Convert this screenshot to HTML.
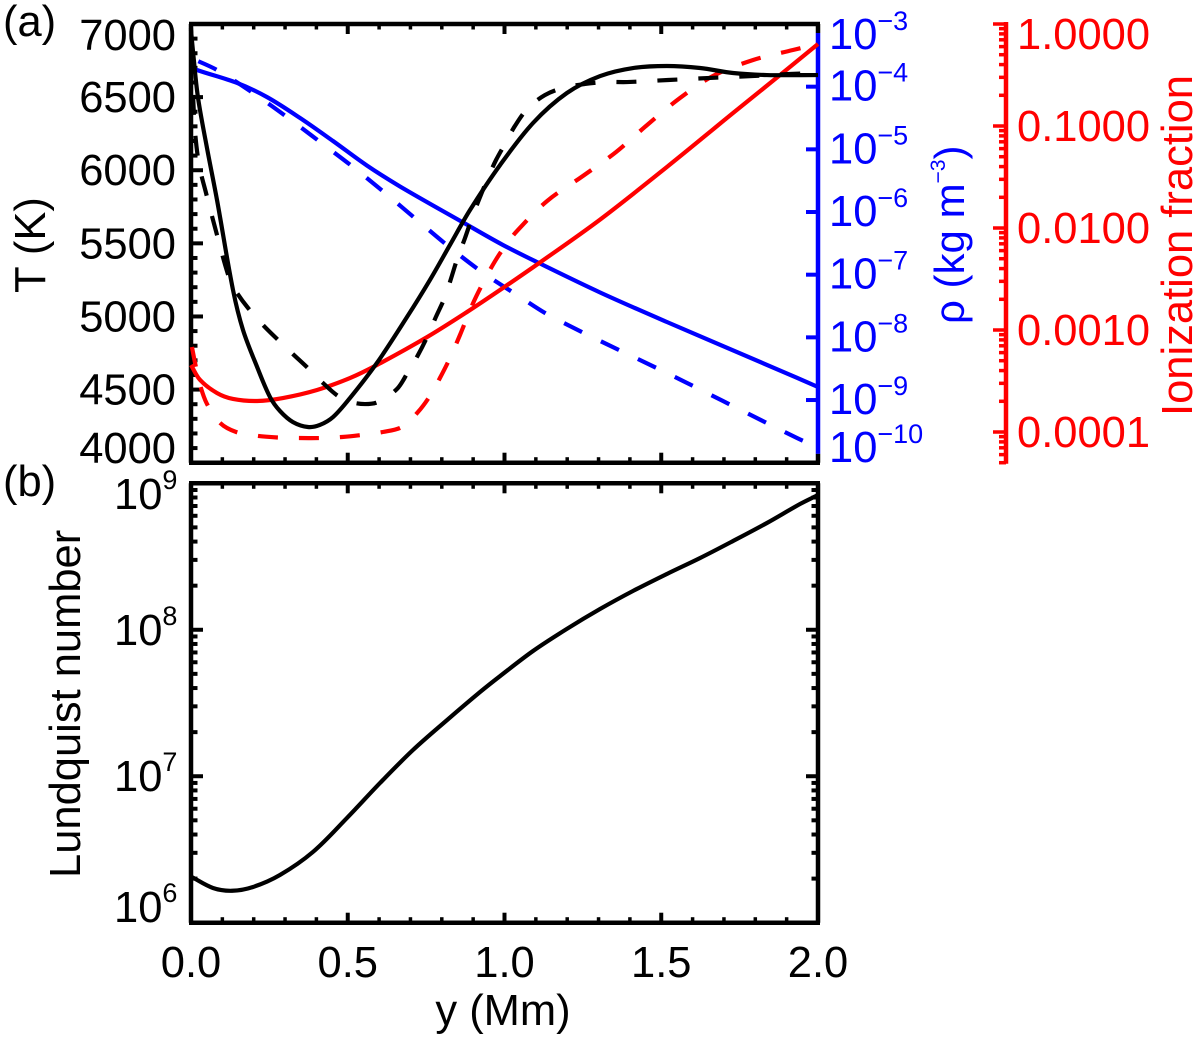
<!DOCTYPE html>
<html lang="en">
<head>
<meta charset="utf-8">
<title>Temperature, density, ionization fraction and Lundquist number</title>
<style>
html,body{margin:0;padding:0;background:#fff;}
svg{display:block;}
text{font-family:"Liberation Sans",sans-serif;font-size:43.5px;}
</style>
</head>
<body>
<svg id="chart" xmlns="http://www.w3.org/2000/svg" width="1200" height="1042" viewBox="0 0 1200 1042">
  <rect x="0" y="0" width="1200" height="1042" fill="#fff"/>
  <g id="axes"></g>
  <g id="series"></g>
  <g id="labels"></g>
  <text x="3" y="36" fill="#000">(a)</text>
  <text x="3" y="496" fill="#000">(b)</text>
  <text transform="translate(45,293) rotate(-90)" fill="#000">T (K)</text>
  <text transform="translate(80,878) rotate(-90)" fill="#000">Lundquist number</text>
  <text transform="translate(964,324) rotate(-90)" fill="#0000ff" style="font-size:42px">ρ (kg m<tspan dy="-19" style="font-size:21px">−3</tspan><tspan dy="19">)</tspan></text>
  <text transform="translate(1192,416) rotate(-90)" fill="#ff0000">Ionization fraction</text>
  <text x="503" y="1025" text-anchor="middle" fill="#000">y (Mm)</text>
</svg>
<script>
// ---- tick values ----
const xTicks = ['0.0', '0.5', '1.0', '1.5', '2.0'];
const tempTicks = [7000, 6500, 6000, 5500, 5000, 4500, 4000];
const rhoExponents = [-3, -4, -5, -6, -7, -8, -9, -10];
const ionTicks = ['1.0000', '0.1000', '0.0100', '0.0010', '0.0001'];
const lundquistExponents = [9, 8, 7, 6];

// ---- temperature (K), solid ----
const tempSolidY = [0, 0.006, 0.022, 0.051, 0.083, 0.134, 0.166, 0.211, 0.252, 0.284, 0.325, 0.373, 0.411, 0.453, 0.507, 0.593, 0.689, 0.762, 0.826, 0.89, 0.986, 1.091, 1.199, 1.305, 1.41, 1.518, 1.624, 1.729, 1.837, 2.0];
const tempSolid = [6959, 6822, 6501, 6152, 5796, 5181, 4907, 4654, 4449, 4353, 4278, 4244, 4258, 4312, 4442, 4682, 4996, 5249, 5489, 5728, 6036, 6323, 6528, 6644, 6699, 6713, 6699, 6665, 6651, 6651];

// ---- temperature (K), dashed ----
const tempDashY = [0, 0.006, 0.013, 0.026, 0.048, 0.083, 0.124, 0.147, 0.182, 0.23, 0.278, 0.325, 0.373, 0.421, 0.469, 0.51, 0.555, 0.596, 0.657, 0.692, 0.724, 0.753, 0.781, 0.81, 0.829, 0.848, 0.874, 0.896, 0.918, 0.947, 0.973, 1.005, 1.033, 1.075, 1.129, 1.186, 1.257, 1.321, 1.391, 1.522, 1.656, 1.79, 1.911, 2.0];
const tempDash = [6973, 6549, 6261, 6036, 5844, 5557, 5249, 5160, 5058, 4941, 4839, 4743, 4647, 4545, 4456, 4415, 4401, 4415, 4504, 4620, 4736, 4859, 4996, 5133, 5256, 5386, 5536, 5673, 5796, 5947, 6070, 6193, 6302, 6425, 6514, 6562, 6590, 6603, 6603, 6617, 6631, 6644, 6658, 6665];

// ---- log10 density (kg m^-3), solid ----
const rhoSolidY = [0, 0.019, 0.147, 0.242, 0.348, 0.453, 0.561, 0.667, 0.868, 0.995, 1.113, 1.305, 1.518, 1.879, 2.0];
const rhoSolidLog = [-3.686, -3.734, -3.941, -4.165, -4.5, -4.867, -5.258, -5.593, -6.167, -6.526, -6.822, -7.284, -7.755, -8.529, -8.792];

// ---- log10 density (kg m^-3), dashed ----
const rhoDashY = [0, 0.083, 0.198, 0.306, 0.412, 0.517, 0.619, 0.721, 0.82, 0.928, 1.04, 1.155, 1.544, 1.933, 2.0];
const rhoDashLog = [-3.543, -3.734, -4.101, -4.484, -4.883, -5.282, -5.697, -6.127, -6.542, -6.957, -7.324, -7.683, -8.633, -9.606, -9.75];

// ---- log10 ionization fraction, solid ----
const ionSolidY = [0, 0.029, 0.083, 0.134, 0.211, 0.293, 0.402, 0.507, 0.593, 0.753, 0.88, 0.995, 1.113, 1.305, 1.518, 1.729, 1.879, 2.0];
const ionSolidLog = [-3.343, -3.49, -3.618, -3.676, -3.696, -3.667, -3.588, -3.471, -3.343, -3.069, -2.824, -2.588, -2.338, -1.917, -1.402, -0.873, -0.5, -0.196];

// ---- log10 ionization fraction, dashed ----
const ionDashY = [0.003, 0.013, 0.029, 0.051, 0.093, 0.144, 0.214, 0.278, 0.344, 0.411, 0.482, 0.545, 0.612, 0.673, 0.724, 0.762, 0.794, 0.826, 0.858, 0.9, 0.938, 0.97, 1.002, 1.04, 1.136, 1.25, 1.356, 1.455, 1.56, 1.665, 1.793, 1.92, 2.0];
const ionDashLog = [-3.167, -3.324, -3.539, -3.725, -3.912, -4, -4.039, -4.054, -4.059, -4.059, -4.049, -4.029, -4, -3.951, -3.804, -3.647, -3.471, -3.275, -3.049, -2.735, -2.5, -2.324, -2.176, -2.029, -1.735, -1.49, -1.255, -0.99, -0.725, -0.51, -0.353, -0.255, -0.196];

// ---- log10 Lundquist number ----
const lundquistY = [0, 0.07, 0.131, 0.198, 0.284, 0.389, 0.498, 0.603, 0.708, 0.817, 0.922, 0.986, 1.091, 1.199, 1.305, 1.41, 1.518, 1.624, 1.729, 1.837, 1.943, 2.0];
const lundquistLog = [6.315, 6.237, 6.218, 6.244, 6.326, 6.483, 6.716, 6.954, 7.179, 7.384, 7.575, 7.684, 7.855, 8.006, 8.142, 8.265, 8.381, 8.49, 8.606, 8.729, 8.859, 8.92];

const NS = 'http://www.w3.org/2000/svg';
const axesLayer = document.getElementById('axes');
const seriesLayer = document.getElementById('series');
const labelsLayer = document.getElementById('labels');

const LEFT = 191, RIGHT = 818;
const A_TOP = 24, A_BOTTOM = 462.7, B_TOP = 483.3, B_BOTTOM = 922.7;
const RED_X = 1006;

function xPos(v) { return LEFT + (v / 2) * (RIGHT - LEFT); }
function tempPos(v) { return A_BOTTOM - (v - 4000) / 3000 * (A_BOTTOM - A_TOP); }
function rhoPos(v) { return A_BOTTOM - (v + 10) / 7 * (A_BOTTOM - A_TOP); }
function ionPos(v) { return A_TOP + (-v) * 102; }
function lundquistPos(v) { return B_BOTTOM - (v - 6) / 3 * (B_BOTTOM - B_TOP); }
function clamp(v, lo, hi) { return Math.max(lo, Math.min(hi, v)); }

function line(x1, y1, x2, y2, color, width, name) {
  const el = document.createElementNS(NS, 'line');
  el.setAttribute('x1', x1);
  el.setAttribute('y1', y1);
  el.setAttribute('x2', x2);
  el.setAttribute('y2', y2);
  el.setAttribute('stroke', color);
  el.setAttribute('stroke-width', width);
  
  
  axesLayer.appendChild(el);
}

function label(x, y, str, color, anchor, name) {
  const el = document.createElementNS(NS, 'text');
  el.setAttribute('x', x);
  el.setAttribute('y', y);
  el.setAttribute('fill', color);
  el.setAttribute('text-anchor', anchor);
  el.textContent = str;
  
  
  labelsLayer.appendChild(el);
}

function powerLabel(x, y, exp, color, rise, name) {
  const el = document.createElementNS(NS, 'text');
  el.setAttribute('x', x);
  el.setAttribute('y', y);
  el.setAttribute('fill', color);
  el.textContent = '10';
  const sup = document.createElementNS(NS, 'tspan');
  sup.setAttribute('dy', -rise);
  sup.setAttribute('style', 'font-size:27px');
  sup.textContent = String(exp).replace('-', '\u2212');
  el.appendChild(sup);
  
  
  labelsLayer.appendChild(el);
}

function chord(a, b) { return Math.max(Math.hypot(b[0] - a[0], b[1] - a[1]), 0.001); }

function curve(ys, vs, posFn, color, dash, offset, name) {
  const pts = ys.map(function (y, i) { return [xPos(y), posFn(vs[i])]; });
  const n = pts.length;
  const tangents = pts.map(function (p, i) {
    const a = pts[Math.max(i - 1, 0)], b = pts[Math.min(i + 1, n - 1)];
    const d = chord(a, p) * (i > 0 ? 1 : 0) + chord(p, b) * (i < n - 1 ? 1 : 0);
    return [(b[0] - a[0]) / d, (b[1] - a[1]) / d];
  });
  let d = 'M' + pts[0][0].toFixed(2) + ' ' + pts[0][1].toFixed(2);
  for (let i = 0; i < n - 1; i++) {
    const p1 = pts[i], p2 = pts[i + 1], h = chord(p1, p2) / 3;
    const c1x = p1[0] + tangents[i][0] * h, c1y = p1[1] + tangents[i][1] * h;
    const c2x = p2[0] - tangents[i + 1][0] * h, c2y = p2[1] - tangents[i + 1][1] * h;
    d += 'C' + c1x.toFixed(2) + ' ' + c1y.toFixed(2) + ' ' + c2x.toFixed(2) + ' ' + c2y.toFixed(2) + ' ' + p2[0].toFixed(2) + ' ' + p2[1].toFixed(2);
  }
  const el = document.createElementNS(NS, 'path');
  el.setAttribute('d', d);
  el.setAttribute('fill', 'none');
  el.setAttribute('stroke', color);
  el.setAttribute('stroke-width', '4.2');
  if (dash) {
    el.setAttribute('stroke-dasharray', dash);
    el.setAttribute('stroke-dashoffset', offset);
  }
  
  
  seriesLayer.appendChild(el);
}

// ---- x ticks on both panels ----
[[A_TOP, A_BOTTOM, 'a'], [B_TOP, B_BOTTOM, 'b']].forEach(function (p) {
  for (let i = 1; i < 20; i++) {
    const x = xPos(i / 10);
    const major = i % 5 === 0;
    const len = major ? 10 : 5.5;
    const w = major ? 4 : 3.5;
    line(x, p[0], x, p[0] + len, '#000', w, 'panel-' + p[2] + '-top-x-tick');
    line(x, p[1], x, p[1] - len, '#000', w, 'panel-' + p[2] + '-bottom-x-tick');
  }
});

// ---- panel (a) temperature ticks ----
for (let t = 4100; t < 7000; t += 100) {
  const major = t % 500 === 0;
  line(LEFT, tempPos(t), LEFT + (major ? 12 : 6.5), tempPos(t), '#000', 4, 'temperature-tick');
}

// ---- panel (b) logarithmic ticks on both sides ----
for (let dec = 6; dec < 9; dec++) {
  for (let m = 1; m < 10; m++) {
    if (dec === 6 && m === 1) continue;
    const y = lundquistPos(dec + Math.log10(m));
    const len = m === 1 ? 12 : 6.5;
    line(LEFT, y, LEFT + len, y, '#000', 4, 'lundquist-left-tick');
    line(RIGHT, y, RIGHT - len, y, '#000', 4, 'lundquist-right-tick');
  }
}

// ---- frames ----
line(LEFT - 2, A_TOP, RIGHT + 2, A_TOP, '#000', 4.5, 'panel-a-top-spine');
line(LEFT - 2, A_BOTTOM, RIGHT + 2, A_BOTTOM, '#000', 4.5, 'panel-a-bottom-spine');
line(LEFT, A_TOP, LEFT, A_BOTTOM, '#000', 4.5, 'panel-a-left-spine');
line(RIGHT, A_TOP, RIGHT, A_TOP + 9, '#000', 4.5, 'panel-a-right-spine-top-corner');
line(RIGHT, A_BOTTOM - 9, RIGHT, A_BOTTOM, '#000', 4.5, 'panel-a-right-spine-bottom-corner');
line(LEFT - 2, B_TOP, RIGHT + 2, B_TOP, '#000', 4.5, 'panel-b-top-spine');
line(LEFT - 2, B_BOTTOM, RIGHT + 2, B_BOTTOM, '#000', 4.5, 'panel-b-bottom-spine');
line(LEFT, B_TOP, LEFT, B_BOTTOM, '#000', 4.5, 'panel-b-left-spine');
line(RIGHT, B_TOP, RIGHT, B_BOTTOM, '#000', 4.5, 'panel-b-right-spine');

// ---- density axis ----
line(RIGHT, A_TOP + 9, RIGHT, A_BOTTOM - 9, '#0000ff', 4.5, 'density-axis-spine');
rhoExponents.slice(1, -1).forEach(function (e) {
  line(RIGHT, rhoPos(e), RIGHT - 12, rhoPos(e), '#0000ff', 4, 'density-tick');
});

// ---- ionization axis ----
line(RED_X, A_TOP - 2, RED_X, A_BOTTOM + 1, '#ff0000', 4.5, 'ionization-axis-spine');
for (let dec = -5; dec <= 0; dec++) {
  for (let m = 1; m < 10; m++) {
    const v = dec + Math.log10(m);
    if (v > 0.001) continue;
    const y = ionPos(v);
    if (y > A_BOTTOM + 1) continue;
    line(RED_X, y, RED_X - (m === 1 ? 13 : 7), y, '#ff0000', 3.5, 'ionization-tick');
  }
}

// ---- tick labels ----
tempTicks.forEach(function (t) {
  label(176, clamp(tempPos(t) + 15, 50, 463), String(t), '#000', 'end', 'temperature-tick-label');
});
rhoExponents.forEach(function (e) {
  powerLabel(829, clamp(rhoPos(e) + 14, 49, 462), e, '#0000ff', 19, 'density-tick-label');
});
ionTicks.forEach(function (s) {
  const y = ionPos(Math.log10(parseFloat(s)));
  label(1017, clamp(y + 15, 49, 463), s, '#ff0000', 'start', 'ionization-tick-label');
});
lundquistExponents.forEach(function (e) {
  powerLabel(114, clamp(lundquistPos(e) + 15, 509, 922), e, '#000', 20, 'lundquist-tick-label');
});
xTicks.forEach(function (s) {
  label(xPos(parseFloat(s)), 977, s, '#000', 'middle', 'x-tick-label');
});

// ---- series ----
curve(rhoSolidY, rhoSolidLog, rhoPos, '#0000ff', null, 0, 'density-solid-line');
curve(rhoDashY, rhoDashLog, rhoPos, '#0000ff', '20 21', 33, 'density-dashed-line');
curve(ionSolidY, ionSolidLog, ionPos, '#ff0000', null, 0, 'ionization-solid-line');
curve(ionDashY, ionDashLog, ionPos, '#ff0000', '20 21', 0, 'ionization-dashed-line');
curve(tempSolidY, tempSolid, tempPos, '#000', null, 0, 'temperature-solid-line');
curve(tempDashY, tempDash, tempPos, '#000', '20 21', 15, 'temperature-dashed-line');
curve(lundquistY, lundquistLog, lundquistPos, '#000', null, 0, 'lundquist-line');
</script>
</body>
</html>
